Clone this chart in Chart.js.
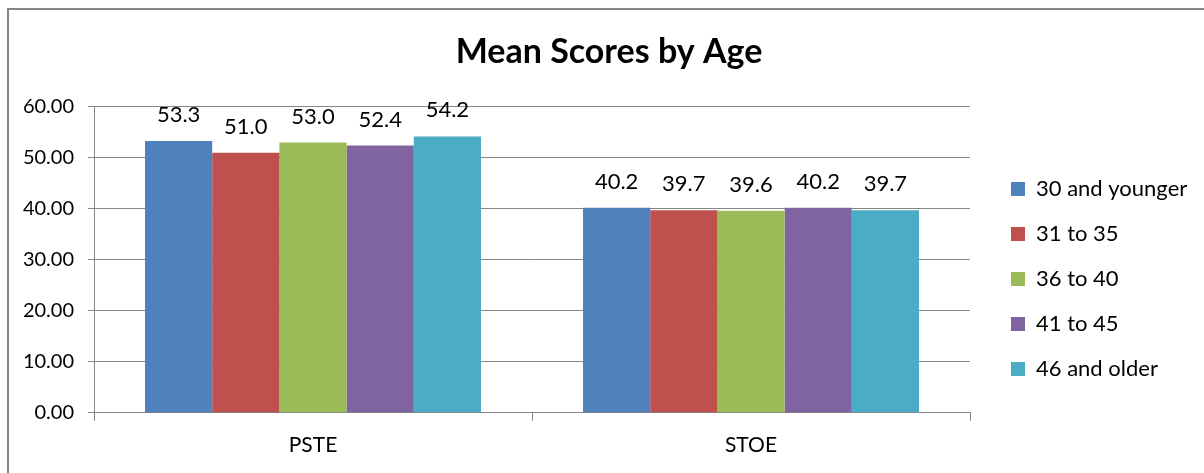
<!DOCTYPE html>
<html>
<head>
<meta charset="utf-8">
<script src="https://cdn.jsdelivr.net/npm/chart.js@4/dist/chart.umd.min.js"></script>
<style>
  html, body { margin: 0; padding: 0; background: #fff; }
  #wrap { width: 1204px; height: 473px; position: relative; }
</style>
</head>
<body>
<div id="wrap"><canvas id="c" width="1204" height="473"></canvas></div>
<script>
const categories = ['PSTE', 'STOE'];
const seriesNames = ['30 and younger', '31 to 35', '36 to 40', '41 to 45', '46 and older'];
const young30 = [53.3, 40.2];
const age31to35 = [51.0, 39.7];
const age36to40 = [53.0, 39.6];
const age41to45 = [52.4, 40.2];
const older46 = [54.2, 39.7];
const seriesColors = ['#4F81BD', '#C0504D', '#9BBB59', '#8064A2', '#4BACC6'];
const yTickLabels = ['0.00', '10.00', '20.00', '30.00', '40.00', '50.00', '60.00'];

const seriesValues = [young30, age31to35, age36to40, age41to45, older46];
const FONT = 'Lato, Calibri, Carlito, sans-serif';
const GRID = '#868686';

const frame = {
  id: 'frame',
  beforeDraw(chart) {
    const ctx = chart.ctx;
    ctx.save();
    ctx.fillStyle = '#fff';
    ctx.fillRect(0, 0, chart.width, chart.height);
    ctx.strokeStyle = GRID;
    ctx.lineWidth = 2;
    ctx.beginPath();
    ctx.moveTo(8, chart.height);
    ctx.lineTo(8, 9);
    ctx.lineTo(chart.width, 9);
    ctx.stroke();
    ctx.restore();
  }
};

const legendPlace = {
  id: 'legendPlace',
  beforeLayout(chart) {
    const lg = chart.legend;
    if (lg && !lg._fixedWidth) {
      const fit = lg.fit;
      lg.fit = function () { fit.call(this); this.width = 234; };
      lg._fixedWidth = true;
    }
  },
  afterLayout(chart) {
    const lg = chart.legend;
    const pad = lg.options.labels.padding;
    lg.left = chart.chartArea.right + 41 - pad;
    lg.right = chart.width;
    lg.width = lg.right - lg.left;
    lg.top = 155;
  }
};

const valueLabels = {
  id: 'valueLabels',
  afterDatasetsDraw(chart) {
    const ctx = chart.ctx;
    ctx.save();
    ctx.font = '22px ' + FONT;
    ctx.fillStyle = '#000';
    ctx.textAlign = 'center';
    ctx.textBaseline = 'alphabetic';
    chart.data.datasets.forEach((ds, i) => {
      chart.getDatasetMeta(i).data.forEach((bar, j) => {
        ctx.fillText(ds.data[j].toFixed(1), bar.x, bar.y - 19);
      });
    });
    ctx.restore();
  }
};

new Chart(document.getElementById('c'), {
  type: 'bar',
  data: {
    labels: categories,
    datasets: seriesNames.map((name, i) => ({
      label: name,
      data: seriesValues[i],
      backgroundColor: seriesColors[i],
      borderWidth: 0,
      categoryPercentage: 0.767,
      barPercentage: 1.0
    }))
  },
  options: {
    responsive: false,
    animation: false,
    devicePixelRatio: 1,
    layout: { padding: { left: 14, right: 0, top: 0, bottom: 3 } },
    plugins: {
      title: {
        display: true,
        text: 'Mean Scores by Age',
        color: '#000',
        font: { family: FONT, size: 34, weight: 'bold', lineHeight: 1.2 },
        padding: { top: 32, bottom: 34 }
      },
      legend: {
        position: 'right',
        align: 'start',
        labels: {
          color: '#000',
          font: { family: FONT, size: 22 },
          boxWidth: 14,
          boxHeight: 14,
          padding: 23
        }
      },
      tooltip: { enabled: false }
    },
    scales: {
      x: {
        offset: true,
        grid: {
          offset: true,
          drawOnChartArea: false,
          drawTicks: true,
          tickLength: 8,
          color: GRID
        },
        border: { color: GRID, width: 1 },
        ticks: { color: '#000', font: { family: FONT, size: 21 }, padding: 12 }
      },
      y: {
        min: 0,
        max: 60,
        afterFit(s) { s.width = 80; },
        afterBuildTicks(s) { s.ticks = yTickLabels.map(t => ({ value: parseFloat(t) })); },
        grid: { color: GRID, drawTicks: true, tickLength: 6 },
        border: { color: GRID, width: 1 },
        ticks: {
          color: '#000',
          font: { family: FONT, size: 20 },
          padding: 14,
          callback: (v) => yTickLabels.find(t => parseFloat(t) === v)
        }
      }
    }
  },
  plugins: [frame, legendPlace, valueLabels]
});
</script>
</body>
</html>
